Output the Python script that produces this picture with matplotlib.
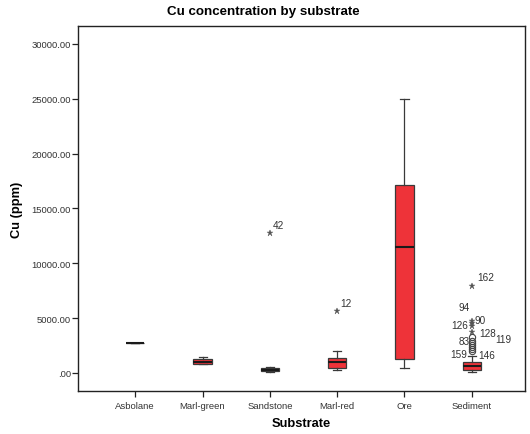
import matplotlib
matplotlib.use('Agg')
import matplotlib.pyplot as plt
from matplotlib.ticker import FuncFormatter

plt.rcParams['font.family'] = ['Liberation Sans', 'DejaVu Sans']

# box statistics (ppm)
substrates = ['Asbolane', 'Marl-green', 'Sandstone', 'Marl-red', 'Ore', 'Sediment']
whislo = [2730, 800, 120, 300, 430, 60]
q1 = [2730, 820, 150, 430, 1280, 300]
med = [2730, 1000, 300, 1030, 11490, 670]
q3 = [2730, 1280, 480, 1340, 17140, 1030]
whishi = [2730, 1490, 520, 2030, 24980, 1550]

# outliers: substrate index, value, case id, marker kind
out_group = [2, 3, 5, 5, 5, 5, 5, 5, 5, 5, 5, 5, 5, 5]
out_value = [12740, 5650, 7960, 4700, 4550, 4300, 3700, 3250,
             2950, 2750, 2550, 2400, 2200, 2000]
out_id = ['42', '12', '162', '94', '90', '126', '128', '119',
          '83', '', '', '', '146', '159']
out_kind = ['*', '*', '*', '*', '*', '*', '*', 'o',
            'o', 'o', 'o', 'o', 'o', 'o']
# label offsets in pixels (right, up) and alignment
out_dx = [3, 3, 5, -13, 3, -4, 7, 23, -2, 0, 0, 0, 6, -5]
out_dy = [8, 8, 9, 14, 3, 1, -1, -2, 0, 0, 0, 0, -6, -3]
out_ha = ['left', 'left', 'left', 'left', 'left', 'right', 'left', 'left',
          'right', 'left', 'left', 'left', 'left', 'right']

fig = plt.figure(figsize=(5.3, 4.35), dpi=100)
ax = fig.add_axes([78 / 530, 1 - 392 / 435, 447 / 530, 365 / 435])

stats = []
for i, name in enumerate(substrates):
    stats.append({'label': name, 'whislo': whislo[i], 'q1': q1[i],
                  'med': med[i], 'q3': q3[i], 'whishi': whishi[i],
                  'fliers': []})

red = '#ee3339'
edge = '#3a3a3a'
ax.bxp(stats, positions=range(len(substrates)), widths=0.27,
       patch_artist=True, showfliers=False,
       boxprops=dict(facecolor=red, edgecolor=edge, linewidth=0.9),
       medianprops=dict(color='#1a1a1a', linewidth=1.5),
       whiskerprops=dict(color=edge, linewidth=0.9),
       capprops=dict(color=edge, linewidth=0.9),
       capwidths=0.12)

for g, v, lab, dx, dy, ha, k in zip(out_group, out_value, out_id,
                                     out_dx, out_dy, out_ha, out_kind):
    if k == '*':
        ax.plot(g, v, marker='*', ms=5, color='#555555', mec='#555555',
                mew=0.3, ls='none')
    else:
        ax.plot(g, v, marker='o', ms=4.5, mfc='none', mec='#444444',
                mew=0.8, ls='none')
    if lab:
        ax.annotate(lab, (g, v), xytext=(dx * 0.72, dy * 0.72),
                    textcoords='offset points', fontsize=7.2,
                    color='#333333', va='center', ha=ha)

ax.set_xlim(-0.85, 5.79)
ax.set_ylim(-1650, 31640)
ax.set_yticks([0, 5000, 10000, 15000, 20000, 25000, 30000])
ax.yaxis.set_major_formatter(FuncFormatter(
    lambda v, p: '.00' if v == 0 else '{:.2f}'.format(v)))
ax.tick_params(axis='both', labelsize=6.8, labelcolor='#333333',
               length=4, width=0.9, color='#222222')
ax.tick_params(axis='y', pad=1)
for s in ax.spines.values():
    s.set_linewidth(1.0)
    s.set_color('#222222')

ax.set_xlabel('Substrate', fontsize=9.3, fontweight='bold', labelpad=5)
ax.set_ylabel('Cu (ppm)', fontsize=9.3, fontweight='bold', labelpad=6)
fig.suptitle('Cu concentration by substrate', fontsize=9.6, fontweight='bold',
             x=0.497, y=0.987)

fig.savefig('out.png', dpi=100)
